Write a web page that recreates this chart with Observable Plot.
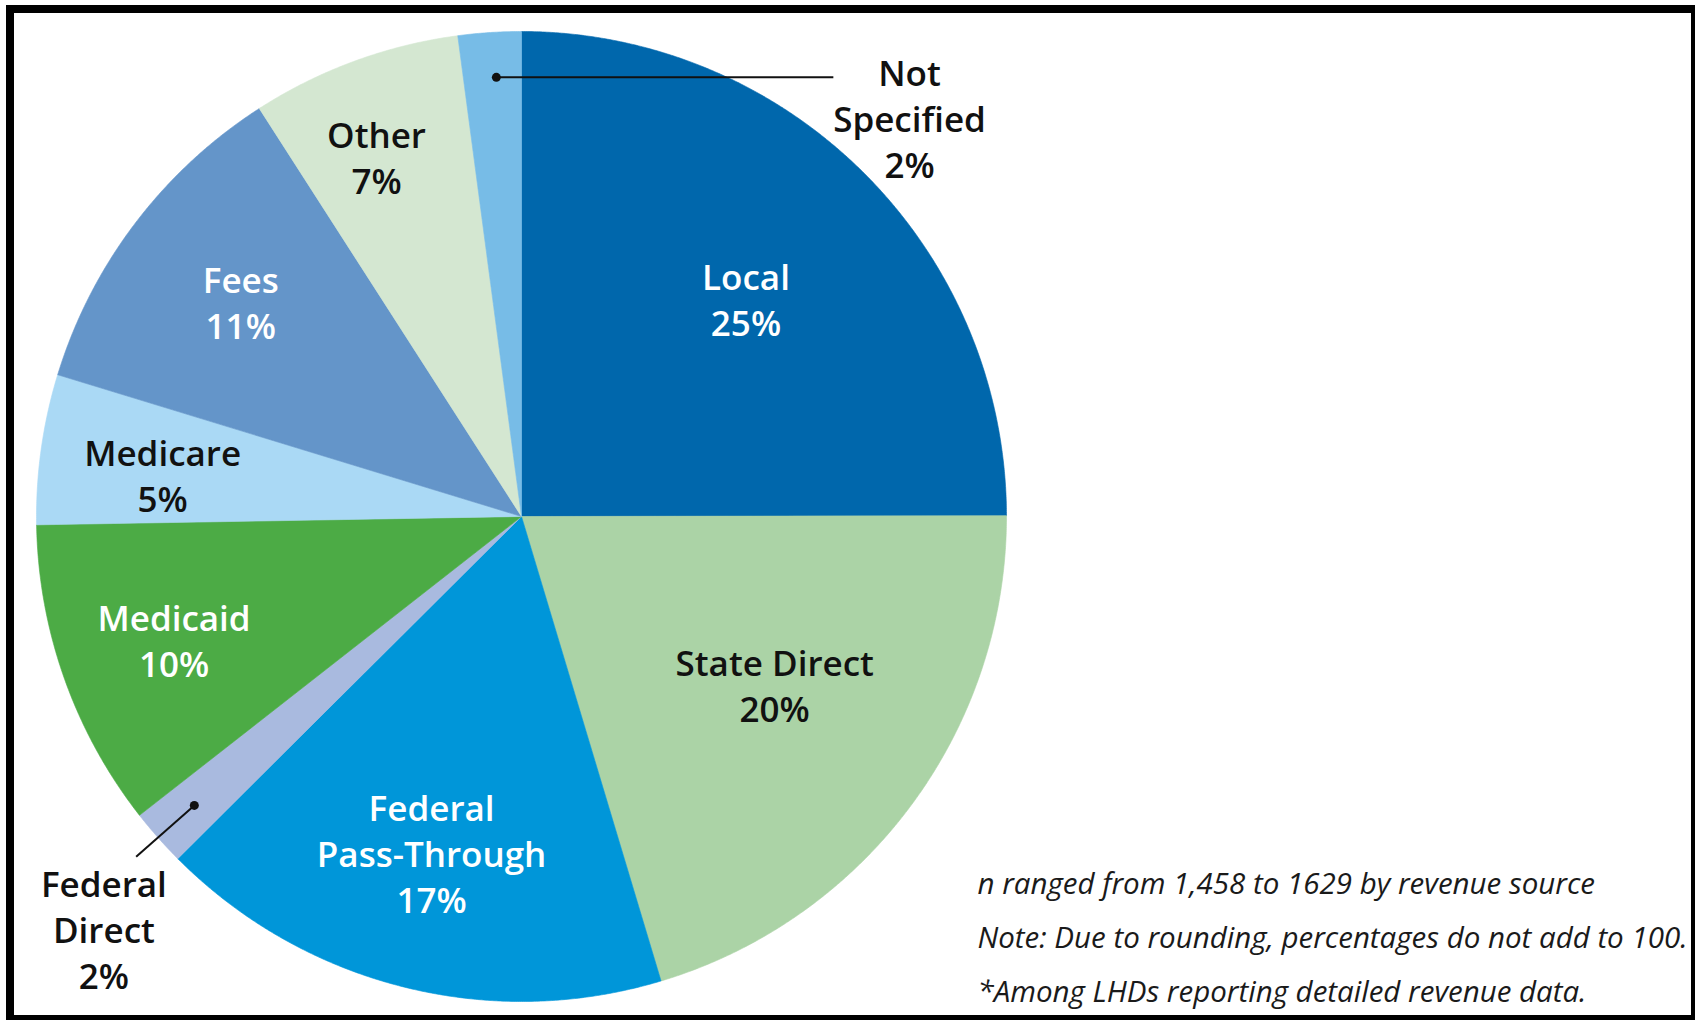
<!DOCTYPE html>
<html>
<head>
<meta charset="utf-8">
<script src="https://cdn.jsdelivr.net/npm/d3@7"></script>
<script src="https://cdn.jsdelivr.net/npm/@observablehq/plot@0.6"></script>
<style>
  html, body { margin: 0; padding: 0; background: #fff; }
  #wrap { position: relative; width: 1696px; height: 1020px; overflow: hidden; background: #fff; }
  #chart { position: absolute; left: 0; top: 0; }
  #frame { position: absolute; left: 6px; top: 5px; width: 1689px; height: 1015px; box-sizing: border-box;
           border-left: 8px solid #000; border-top: 8px solid #000; border-right: 4px solid #000; border-bottom: 5px solid #000;
           pointer-events: none; }
</style>
</head>
<body>
<div id="wrap"><div id="chart"></div><div id="frame"></div></div>
<script>
// ---------------- data ----------------
const categories = ["Local", "State Direct", "Federal Pass-Through", "Federal Direct", "Medicaid", "Medicare", "Fees", "Other", "Not Specified"];
const shares = [25.0, 20.4, 17.2, 1.9, 10.3, 5.0, 11.2, 7.0, 2.1];
const pctLabels = ["25%", "20%", "17%", "2%", "10%", "5%", "11%", "7%", "2%"];
const displayNames = ["Local", "State Direct", "Federal\nPass-Through", "Federal\nDirect", "Medicaid", "Medicare", "Fees", "Other", "Not\nSpecified"];
const notes = [
  "n ranged from 1,458 to 1629 by revenue source",
  "Note: Due to rounding, percentages do not add to 100.",
  "*Among LHDs reporting detailed revenue data."
];

// ---------------- style / layout ----------------
const sliceColors = ["#0067ac", "#abd3a6", "#0096d9", "#a9badf", "#4cab45", "#aad9f5", "#6495c9", "#d4e7d1", "#77bce7"];
const whiteText = new Set(["Local", "Federal Pass-Through", "Medicaid", "Fees"]);
const outsideLabels = new Set(["Federal Direct", "Not Specified"]);
const labelRadius = {"Local": 0.645, "State Direct": 0.626, "Federal Pass-Through": 0.716, "Medicaid": 0.76, "Medicare": 0.745, "Fees": 0.73, "Other": 0.80};
const labelNudge = {"Local": 0.9, "State Direct": -3.1, "Federal Pass-Through": 0.8, "Medicaid": 0, "Medicare": -1.3, "Fees": 0.4, "Other": -1.8};
const cx = 521, cy = 516, R = 485;

// ---------------- derived ----------------
const total = d3.sum(shares);
let acc = 0;
const slices = categories.map((name, i) => {
  const a0 = acc / total * 360;
  acc += shares[i];
  const a1 = acc / total * 360;
  return {name, a0, a1, mid: (a0 + a1) / 2, pct: pctLabels[i], label: displayNames[i] + "\n" + pctLabels[i]};
});
const rad = d => d * Math.PI / 180;
const polar = (deg, r) => ({x: r * Math.sin(rad(deg)), y: r * Math.cos(rad(deg))});

const piePts = [];
for (const s of slices) {
  piePts.push({name: s.name, x: 0, y: 0});
  const n = Math.max(2, Math.ceil((s.a1 - s.a0) / 0.25));
  for (let k = 0; k <= n; k++) {
    const p = polar(s.a0 + (s.a1 - s.a0) * k / n, 1);
    piePts.push({name: s.name, ...p});
  }
  piePts.push({name: s.name, x: 0, y: 0});
}

const inside = slices.filter(s => !outsideLabels.has(s.name)).map(s => ({...s, ...polar(s.mid + labelNudge[s.name], labelRadius[s.name])}));
const bySlice = Object.fromEntries(slices.map(s => [s.name, s]));

// callouts (leader lines)
const nsDot = polar(bySlice["Not Specified"].mid + 0.5, 0.907);
const fdDot = polar(bySlice["Federal Direct"].mid, 0.90);
const fdEnd = polar(bySlice["Federal Direct"].mid, 1.06);
const callouts = [
  {name: "Not Specified", x1: nsDot.x, y1: nsDot.y, x2: 0.643, y2: nsDot.y},
  {name: "Federal Direct", x1: fdDot.x, y1: fdDot.y, x2: fdEnd.x, y2: fdEnd.y}
];
const outside = [
  {label: bySlice["Not Specified"].label, x: 0.800, y: 0.823},
  {label: bySlice["Federal Direct"].label, x: -0.861, y: -0.850}
];

const labelFont = {fontFamily: "Open Sans", fontWeight: 600, fontSize: 35, lineHeight: 1.314, textAnchor: "middle", lineAnchor: "middle"};

const plot = Plot.plot({
  width: 1696, height: 1020, margin: 0,
  x: {domain: [-1, 1], range: [cx - R, cx + R], axis: null},
  y: {domain: [-1, 1], range: [cy + R, cy - R], axis: null},
  color: {domain: categories, range: sliceColors},
  style: {background: "transparent", fontFamily: "Open Sans"},
  marks: [
    Plot.line(piePts, {x: "x", y: "y", z: "name", fill: "name", stroke: "name", strokeWidth: 0.6, curve: "linear"}),
    Plot.link(callouts, {x1: "x1", y1: "y1", x2: "x2", y2: "y2", stroke: "#111", strokeWidth: 2}),
    Plot.dot(callouts, {x: "x1", y: "y1", r: 4.5, fill: "#111", stroke: null}),
    Plot.text(inside.filter(d => whiteText.has(d.name)), {x: "x", y: "y", text: "label", fill: "#fff", ...labelFont}),
    Plot.text(inside.filter(d => !whiteText.has(d.name)), {x: "x", y: "y", text: "label", fill: "#111", ...labelFont}),
    Plot.text(outside, {x: "x", y: "y", text: "label", fill: "#111", ...labelFont}),
    Plot.text([notes.join("\n")], {text: d => d, frameAnchor: "top-left", dx: 977, dy: 855, textAnchor: "start", lineAnchor: "top",
      lineHeight: 1.83, fontFamily: "Open Sans", fontStyle: "italic", fontWeight: 400, fontSize: 29.5, fill: "#1a1a1a"})
  ]
});
document.getElementById("chart").appendChild(plot);
</script>
</body>
</html>
